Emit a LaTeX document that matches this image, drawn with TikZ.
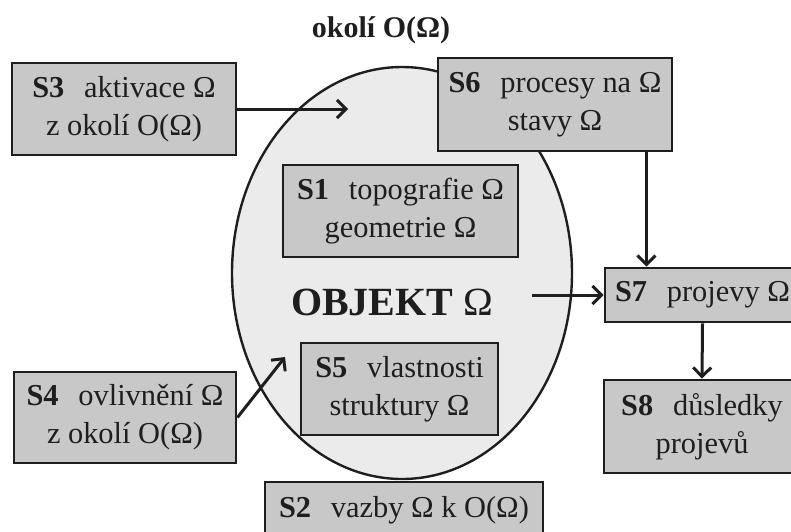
\documentclass[tikz,border=0pt]{standalone}
\usepackage{fontspec}
\setmainfont{Liberation Serif}
\usetikzlibrary{arrows.meta,calc,shapes.geometric}
\definecolor{boxfill}{HTML}{C8C8C8}
\definecolor{ellfill}{HTML}{EBEBEB}
\definecolor{ink}{HTML}{1E1E1E}
\newcommand{\slab}[1]{\textbf{#1}\hspace{0.65em}}
\begin{document}
\begin{tikzpicture}[x=0.5pt,y=-0.5pt,
  sbox/.style={draw=ink,line width=1.4pt,fill=boxfill,align=center,inner sep=0pt,text=ink,font=\fontsize{15.2}{19}\selectfont},
  arr/.style={draw=ink,line width=1.5pt,-{Straight Barb[length=4.5pt,width=9pt,line width=1.5pt]}}]
\useasboundingbox (0,0) rectangle (791,531);
\clip (0,0) rectangle (791,531);
% object ellipse
\node[ellipse,draw=ink,line width=1.2pt,fill=ellfill,minimum width=170pt,minimum height=206pt,inner sep=0pt] (ell) at (402,273) {};
% title
\node[text=ink,font=\bfseries\fontsize{15}{19}\selectfont] (title) at (381,30) {okolí O(Ω)};
% boxes
\node[sbox,minimum width=112pt,minimum height=46pt] (S3) at (124,109) {\slab{S3}aktivace Ω\\z okolí O(Ω)};
\node[sbox,minimum width=117pt,minimum height=46.5pt] (S6) at (555,104.5) {\slab{S6}procesy na Ω\\stavy Ω};
\node[sbox,minimum width=117.5pt,minimum height=46pt] (S1) at (400.5,211) {\slab{S1}topografie Ω\\geometrie Ω};
\node[text=ink,font=\fontsize{20}{24}\selectfont] (obj) at (392,302) {\textbf{OBJEKT} Ω};
\node[sbox,minimum width=98.5pt,minimum height=46pt] (S5) at (399.5,389) {\slab{S5}vlastnosti\\struktury Ω};
\node[sbox,minimum width=111pt,minimum height=45.5pt] (S4) at (125,417.5) {\slab{S4}ovlivnění Ω\\z okolí O(Ω)};
\node[sbox,minimum width=139pt,minimum height=28pt] (S2) at (404,510) {\slab{S2}vazby Ω k O(Ω)};
\node[sbox,minimum width=97.5pt,minimum height=27pt] (S7) at (702.5,295) {\slab{S7}projevy Ω};
\node[sbox,minimum width=98pt,minimum height=46.5pt] (S8) at (702,426.5) {\slab{S8}důsledky\\projevů};
% connectors
\coordinate (a3) at (348,109);
\coordinate (a4) at (285,357);
\coordinate (o7) at (532,295);
\coordinate (s6o) at ($(S6.south east)+(-27,0)$);
\draw[arr] (S3.east) -- (a3);
\draw[arr] (S4.east) -- (a4);
\draw[arr] (o7) -- (S7.west);
\draw[arr] (s6o) -- (s6o |- S7.north);
\draw[arr] (S7.south) -- (S8.north);
\end{tikzpicture}
\end{document}
